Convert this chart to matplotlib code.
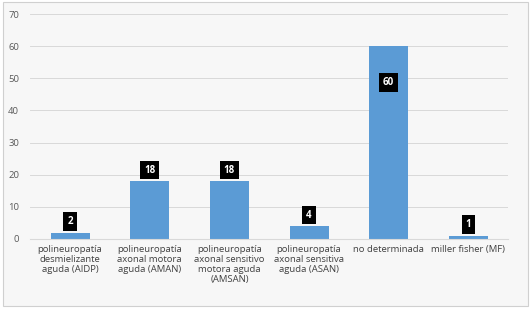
import matplotlib.pyplot as plt
from matplotlib.patches import Rectangle

categories = [
    "polineuropatía\ndesmielizante\naguda (AIDP)",
    "polineuropatía\naxonal motora\naguda (AMAN)",
    "polineuropatía\naxonal sensitivo\nmotora aguda\n(AMSAN)",
    "polineuropatía\naxonal sensitiva\naguda (ASAN)",
    "no determinada",
    "miller fisher (MF)",
]
values = [2, 18, 18, 4, 60, 1]
yticks = [0, 10, 20, 30, 40, 50, 60, 70]

plt.rcParams['font.family'] = ['Open Sans', 'DejaVu Sans']

fig = plt.figure(figsize=(5.31, 3.12), dpi=100)
fig.patch.set_facecolor('white')
bg = Rectangle((0.006, 0.02), 0.988, 0.972, transform=fig.transFigure,
               facecolor='#f7f7f7', edgecolor='#d0d0d0', lw=0.8, zorder=-5)
fig.patches.append(bg)

ax = fig.add_axes([0.057, 0.234, 0.9, 0.721])
ax.set_zorder(2)
ax.set_facecolor('none')
x = list(range(len(categories)))
ax.bar(x, values, width=0.49, color='#5b9bd5', zorder=2)

# data labels: black boxes, inside the tall bar, above the others
for xi, v in zip(x, values):
    off = -26 if v > 50 else 8
    ax.annotate(str(v), (xi, v), xytext=(0, off), textcoords='offset points',
                ha='center', va='center', color='white', fontsize=7, fontweight='bold',
                bbox=dict(boxstyle='square,pad=0.4', fc='black', ec='none'), zorder=3)

ax.set_ylim(0, 70)
ax.set_xlim(-0.5, len(categories) - 0.5)
ax.set_yticks(yticks)
ax.set_xticks(x)
ax.set_xticklabels(categories, fontsize=6.8, color='#404040', linespacing=1.15)
ax.tick_params(axis='y', labelsize=6.8, colors='#595959', length=0, pad=8)
ax.tick_params(axis='x', length=0, pad=4)
ax.grid(axis='y', color='#d9d9d9', lw=0.7, zorder=0)
for s in ['top', 'right', 'left']:
    ax.spines[s].set_visible(False)
ax.spines['bottom'].set_color('#d9d9d9')

fig.savefig('out.png', dpi=100)
